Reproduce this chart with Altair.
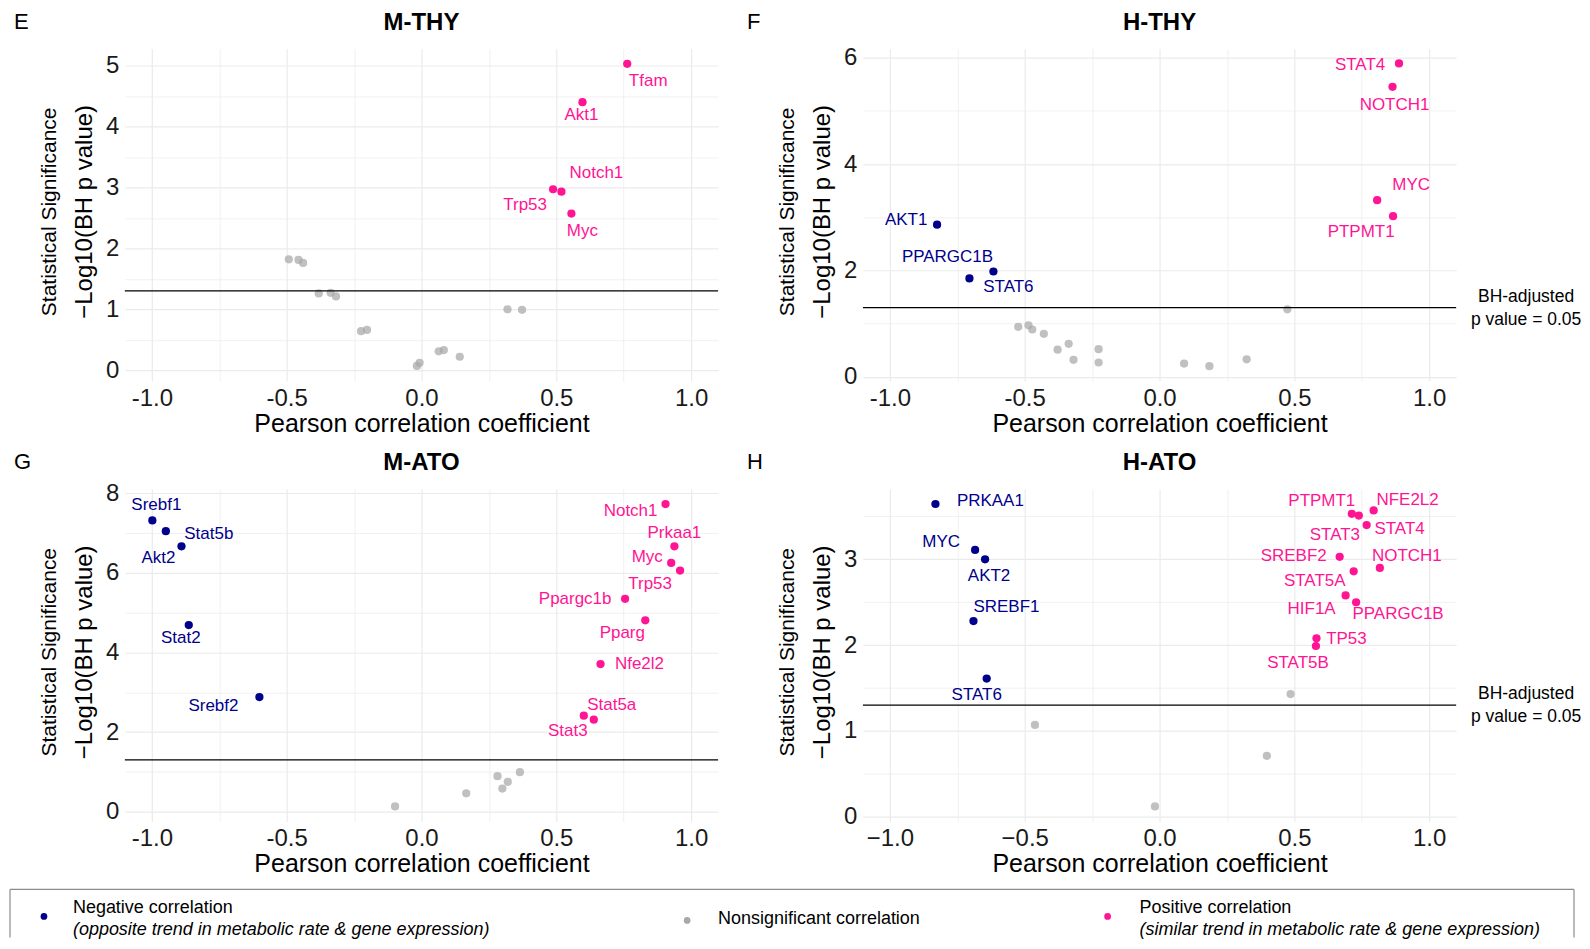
import altair as alt
import pandas as pd

FONT = "Liberation Sans"
NEG_COL = "#00008B"
POS_COL = "#FF1493"
NS_COL = "#A8A8A8"
THRESH = 1.30103

# ---------------- data ----------------
# E: M-THY
mthy_genes = ["Tfam", "Akt1", "Notch1", "Trp53", "Myc"]
mthy_r = [0.763, 0.597, 0.519, 0.488, 0.556]
mthy_logp = [5.03, 4.40, 2.93, 2.97, 2.57]
mthy_ns_r = [-0.492, -0.456, -0.439, -0.381, -0.337, -0.317, -0.224, -0.202,
             -0.017, -0.007, 0.064, 0.083, 0.142, 0.319, 0.373]
mthy_ns_logp = [1.82, 1.81, 1.76, 1.26, 1.27, 1.21, 0.64, 0.66,
                0.07, 0.12, 0.31, 0.33, 0.22, 1.00, 0.99]

# F: H-THY
hthy_genes = ["STAT4", "NOTCH1", "MYC", "PTPMT1", "AKT1", "PPARGC1B", "STAT6"]
hthy_r = [0.888, 0.864, 0.807, 0.866, -0.825, -0.705, -0.616]
hthy_logp = [5.89, 5.45, 3.32, 3.02, 2.86, 1.85, 1.98]
hthy_ns_r = [0.474, -0.524, -0.486, -0.472, -0.429, -0.378, -0.337, -0.319,
             -0.226, -0.226, 0.091, 0.185, 0.323]
hthy_ns_logp = [1.27, 0.94, 0.97, 0.89, 0.81, 0.51, 0.62, 0.32,
                0.52, 0.27, 0.25, 0.20, 0.33]

# G: M-ATO
mato_genes = ["Srebf1", "Stat5b", "Akt2", "Stat2", "Srebf2", "Notch1", "Prkaa1",
              "Myc", "Trp53", "Ppargc1b", "Pparg", "Nfe2l2", "Stat5a", "Stat3"]
mato_r = [-0.998, -0.948, -0.890, -0.863, -0.601, 0.905, 0.938,
          0.926, 0.959, 0.755, 0.830, 0.664, 0.602, 0.639]
mato_logp = [7.32, 7.05, 6.67, 4.69, 2.88, 7.73, 6.67,
             6.25, 6.06, 5.35, 4.81, 3.71, 2.41, 2.31]
mato_ns_r = [-0.098, 0.166, 0.282, 0.300, 0.320, 0.365]
mato_ns_logp = [0.13, 0.46, 0.89, 0.58, 0.75, 0.99]

# H: H-ATO
hato_genes = ["PRKAA1", "MYC", "AKT2", "SREBF1", "STAT6", "PTPMT1", "STAT3", "NFE2L2",
              "STAT4", "SREBF2", "NOTCH1", "STAT5A", "HIF1A", "PPARGC1B", "TP53", "STAT5B"]
hato_r = [-0.831, -0.684, -0.647, -0.690, -0.641, 0.713, 0.739, 0.794,
          0.768, 0.668, 0.817, 0.720, 0.690, 0.729, 0.582, 0.580]
hato_logp = [3.645, 3.11, 3.00, 2.28, 1.61, 3.53, 3.51, 3.57,
             3.40, 3.03, 2.90, 2.86, 2.58, 2.50, 2.08, 1.99]
hato_ns_r = [0.486, -0.462, 0.398, -0.017]
hato_ns_logp = [1.43, 1.07, 0.71, 0.12]

legend_labels = ["Negative correlation", "Nonsignificant correlation", "Positive correlation"]
legend_notes = ["(opposite trend in metabolic rate & gene expression)", "",
                "(similar trend in metabolic rate & gene expression)"]

# ---------------- layout (label offsets in px) ----------------
mthy_off = {"Tfam": (21, 17), "Akt1": (-1, 13), "Notch1": (35, -19),
            "Trp53": (-28, 16), "Myc": (11, 17)}
hthy_off = {"STAT4": (-39, 2), "NOTCH1": (2, 18), "MYC": (34, -15), "PTPMT1": (-32, 16),
            "AKT1": (-31, -5), "PPARGC1B": (-22, -21), "STAT6": (15, 16)}
mato_off = {"Srebf1": (4, -15), "Stat5b": (43, 3), "Akt2": (-23, 12), "Stat2": (-8, 13),
            "Srebf2": (-46, 9), "Notch1": (-35, 7), "Prkaa1": (0, -13), "Myc": (-24, -6),
            "Trp53": (-30, 13), "Ppargc1b": (-50, 0), "Pparg": (-23, 13), "Nfe2l2": (39, 0),
            "Stat5a": (28, -11), "Stat3": (-26, 11)}
hato_off = {"PRKAA1": (55, -3), "MYC": (-34, -8), "AKT2": (4, 17), "SREBF1": (33, -14),
            "STAT6": (-10, 16), "PTPMT1": (-30, -13), "STAT3": (-24, 19), "NFE2L2": (34, -10),
            "STAT4": (33, 4), "SREBF2": (-46, -1), "NOTCH1": (27, -12), "STAT5A": (-39, 10),
            "HIF1A": (-34, 14), "PPARGC1B": (42, 12), "TP53": (30, 1), "STAT5B": (-18, 17)}

W, H = 594, 333
one = pd.DataFrame({"k": [0]})


def legend_layers():
    # legend box drawn below panel G (positions relative to panel G's plot area);
    # its bottom edge runs off the page, as in the original figure
    box_l, box_r, box_t, box_b = -115, 1451, 401, 449
    frame = dict(color="#8c8c8c", strokeWidth=1.2)
    out = [
        alt.Chart(one).mark_rule(**frame).encode(
            x=alt.value(box_l), x2=alt.value(box_r), y=alt.value(box_t)),
        alt.Chart(one).mark_rule(**frame).encode(
            x=alt.value(box_l), y=alt.value(box_t), y2=alt.value(box_b)),
        alt.Chart(one).mark_rule(**frame).encode(
            x=alt.value(box_r), y=alt.value(box_t), y2=alt.value(box_b)),
    ]
    dot_x = [-81, 563, 984]
    txt_x = [-52, 594, 1016]
    cols = [NEG_COL, NS_COL, POS_COL]
    for i in range(3):
        two_line = legend_notes[i] != ""
        out.append(alt.Chart(one).mark_circle(size=45, color=cols[i], opacity=1).encode(
            x=alt.value(dot_x[i]), y=alt.value(box_t + (27 if two_line else 31))))
        out.append(alt.Chart(one).mark_text(font=FONT, fontSize=18, color="black",
                                            align="left", baseline="middle").encode(
            x=alt.value(txt_x[i]), y=alt.value(box_t + (19 if two_line else 30)),
            text=alt.value(legend_labels[i])))
        if two_line:
            out.append(alt.Chart(one).mark_text(font=FONT, fontSize=18, color="black",
                                                fontStyle="italic", align="left",
                                                baseline="middle").encode(
                x=alt.value(txt_x[i]), y=alt.value(box_t + 41), text=alt.value(legend_notes[i])))
    return out


def panel(title, letter, letter_x, genes, r, logp, ns_r, ns_logp, offsets,
          ydom, ystep, ymajor, unicode_minus, annotate, with_legend=False):
    sig = pd.DataFrame({"gene": genes, "r": r, "logp": logp})
    sig["cls"] = ["Negative" if v < 0 else "Positive" for v in r]
    ns = pd.DataFrame({"r": ns_r, "logp": ns_logp})

    xvals = [-1.0, -0.75, -0.5, -0.25, 0.0, 0.25, 0.5, 0.75, 1.0]
    yvals = []
    v = 0.0
    while v <= ydom[1] + 1e-9:
        yvals.append(round(v, 3))
        v += ystep

    xmaj = "abs(datum.value * 2 - round(datum.value * 2)) < 0.001"
    ymaj = f"abs(datum.value / {ymajor} - round(datum.value / {ymajor})) < 0.001"
    fmt = "format(datum.value, '.1f')"
    if not unicode_minus:
        fmt = "replace(format(datum.value, '.1f'), '\u2212', '-')"

    xaxis = alt.Axis(values=xvals, labelExpr=f"{xmaj} ? {fmt} : ''",
                     grid=True, gridColor="#EBEBEB",
                     gridWidth={"condition": {"test": xmaj, "value": 1.2}, "value": 0.7},
                     ticks=False, domain=False, labelFont=FONT, labelFontSize=24,
                     labelColor="#1a1a1a", labelPadding=5, labelFlush=False,
                     title="Pearson correlation coefficient", titleFont=FONT,
                     titleFontSize=25, titleFontWeight="normal", titleColor="black",
                     titlePadding=1)
    yaxis = alt.Axis(values=yvals, labelExpr=f"{ymaj} ? format(datum.value, 'd') : ''",
                     grid=True, gridColor="#EBEBEB",
                     gridWidth={"condition": {"test": ymaj, "value": 1.2}, "value": 0.7},
                     ticks=False, domain=False, labelFont=FONT, labelFontSize=24,
                     labelColor="#1a1a1a", labelPadding=6, labelFlush=False, title=None)
    xs = alt.Scale(domain=[-1.1, 1.1], nice=False, zero=False)
    ys = alt.Scale(domain=ydom, nice=False, zero=False)
    X = alt.X("r:Q", scale=xs, axis=xaxis)
    Y = alt.Y("logp:Q", scale=ys, axis=yaxis)
    C = alt.Color("cls:N", scale=alt.Scale(domain=["Negative", "Positive"],
                                           range=[NEG_COL, POS_COL]), legend=None)

    layers = [
        alt.Chart(ns).mark_circle(size=68, color=NS_COL, opacity=0.72).encode(x=X, y=Y),
        alt.Chart(pd.DataFrame({"logp": [THRESH]})).mark_rule(
            color="black", strokeWidth=1.1).encode(y=Y),
        alt.Chart(sig).mark_circle(size=68, opacity=1).encode(x=X, y=Y, color=C),
    ]
    for g in genes:
        dx, dy = offsets[g]
        layers.append(
            alt.Chart(sig).transform_filter(alt.datum.gene == g).mark_text(
                dx=dx, dy=dy, font=FONT, fontSize=17, align="center", baseline="middle"
            ).encode(x=X, y=Y, color=C, text="gene:N"))
    layers += [
        alt.Chart(one).mark_text(angle=270, font=FONT, fontSize=21, color="black",
                                 align="center", baseline="middle").encode(
            x=alt.value(-75), y=alt.value(H / 2 - 3), text=alt.value("Statistical Significance")),
        alt.Chart(one).mark_text(angle=270, font=FONT, fontSize=24, color="black",
                                 align="center", baseline="middle").encode(
            x=alt.value(-40), y=alt.value(H / 2 - 3), text=alt.value("\u2212Log10(BH p value)")),
        alt.Chart(one).mark_text(font=FONT, fontSize=22, color="black",
                                 align="left", baseline="middle").encode(
            x=alt.value(letter_x), y=alt.value(-27), text=alt.value(letter)),
        alt.Chart(one).mark_text(font=FONT, fontSize=24, fontWeight="bold", color="black",
                                 align="center", baseline="middle").encode(
            x=alt.value(W / 2), y=alt.value(-26), text=alt.value(title)),
    ]
    if annotate:
        thr = pd.DataFrame({"logp": [THRESH]})
        for txt, dy in (("BH-adjusted", -11), ("p value = 0.05", 12)):
            layers.append(
                alt.Chart(thr).mark_text(font=FONT, fontSize=17.5, color="black",
                                         align="center", baseline="middle", dy=dy).encode(
                    x=alt.value(W + 70), y=Y, text=alt.value(txt)))
    if with_legend:
        layers += legend_layers()

    return alt.layer(*layers).properties(width=W, height=H)


pE = panel("M-THY", "E", -111, mthy_genes, mthy_r, mthy_logp, mthy_ns_r, mthy_ns_logp,
           mthy_off, [-0.18, 5.28], 0.5, 1, False, False)
pF = panel("H-THY", "F", -116, hthy_genes, hthy_r, hthy_logp, hthy_ns_r, hthy_ns_logp,
           hthy_off, [-0.08, 6.17], 1, 2, False, True)
pG = panel("M-ATO", "G", -111, mato_genes, mato_r, mato_logp, mato_ns_r, mato_ns_logp,
           mato_off, [-0.25, 8.11], 1, 2, False, False, with_legend=True)
pH = panel("H-ATO", "H", -116, hato_genes, hato_r, hato_logp, hato_ns_r, hato_ns_logp,
           hato_off, [-0.056, 3.82], 0.5, 1, True, True)

chart = alt.concat(
    pE, pF, pG, pH, columns=2, spacing={"row": 108, "column": 145}, bounds="flush"
).properties(
    padding={"left": 0, "top": 1, "right": 0, "bottom": 0}
).configure_view(stroke="transparent")

chart.save("out.html", embed_options={"renderer": "svg", "actions": False})
